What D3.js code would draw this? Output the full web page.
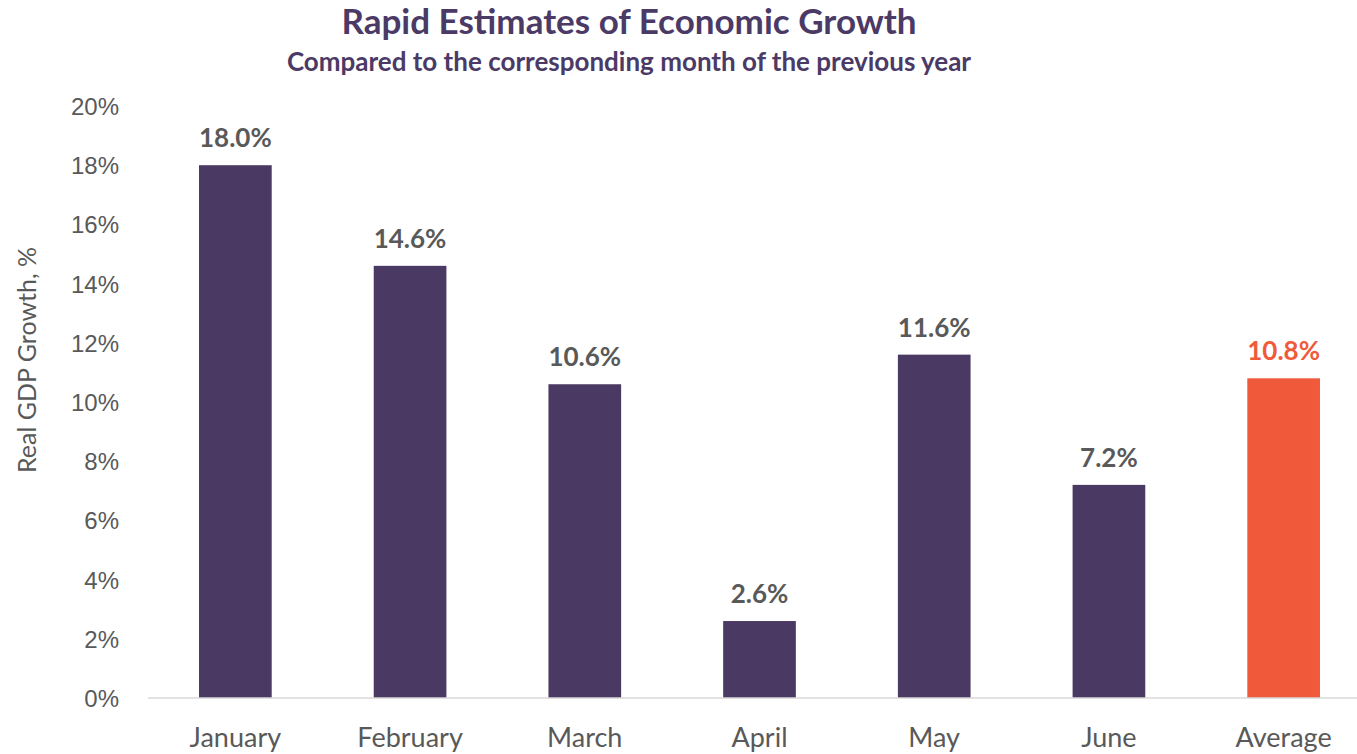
<!DOCTYPE html>
<html>
<head>
<meta charset="utf-8">
<script src="https://cdn.jsdelivr.net/npm/d3@7"></script>
<style>
  body { margin: 0; background: #fff; }
  svg { display: block; font-family: Lato, "Noto Sans", sans-serif; }
  .title { fill: #4b3a66; font-weight: 700; }
  .tick text, .month { fill: #595959; }
  .value { font-weight: 700; fill: #595959; }
</style>
</head>
<body>
<svg id="chart" width="1357" height="754"></svg>
<script>
const months = ['January', 'February', 'March', 'April', 'May', 'June', 'Average'];
const growth = [18.0, 14.6, 10.6, 2.6, 11.6, 7.2, 10.8];
const yTicks = [0, 2, 4, 6, 8, 10, 12, 14, 16, 18, 20];

const data = months.map((m, i) => ({ month: m, value: growth[i], avg: m === 'Average' }));

const svg = d3.select('#chart');
const width = 1357, height = 754;
const margin = { top: 106, right: 0, bottom: 56, left: 148 };

const x = d3.scaleBand()
  .domain(months)
  .range([margin.left, 1371])
  .paddingInner(0.584)
  .paddingOuter(0.292);

const y = d3.scaleLinear()
  .domain([0, 20])
  .range([height - margin.bottom, margin.top]);

// titles
svg.append('text').attr('class', 'title')
  .attr('x', 629).attr('y', 34)
  .attr('text-anchor', 'middle')
  .style('font-size', '35px')
  .text('Rapid Estimates of Economic Growth');
svg.append('text').attr('class', 'title')
  .attr('x', 629).attr('y', 71)
  .attr('text-anchor', 'middle')
  .style('font-size', '26px')
  .text('Compared to the corresponding month of the previous year');

// y axis labels only
const yAxis = svg.append('g')
  .attr('transform', `translate(${119},0)`)
  .call(d3.axisLeft(y).tickValues(yTicks).tickSize(0).tickPadding(0).tickFormat(d => d + '%'));
yAxis.select('.domain').remove();
yAxis.selectAll('text').style('font-size', '24px').attr('dy', '.35em');

svg.append('text')
  .attr('transform', `translate(${36},${360}) rotate(-90)`)
  .attr('text-anchor', 'middle')
  .style('font-size', '25px')
  .attr('fill', '#595959')
  .text('Real GDP Growth, %');

// bars
svg.selectAll('rect.bar').data(data).join('rect')
  .attr('class', 'bar')
  .attr('x', d => x(d.month))
  .attr('width', x.bandwidth())
  .attr('y', d => y(d.value))
  .attr('height', d => y(0) - y(d.value))
  .attr('fill', d => d.avg ? '#f05a3a' : '#4a3a63');

// baseline
svg.append('line')
  .attr('x1', margin.left).attr('x2', width)
  .attr('y1', y(0)).attr('y2', y(0))
  .attr('stroke', '#d9d9d9').attr('stroke-width', 1.5);

// value labels
svg.selectAll('text.value').data(data).join('text')
  .attr('class', 'value')
  .attr('x', d => x(d.month) + x.bandwidth() / 2)
  .attr('y', d => y(d.value) - 18)
  .attr('text-anchor', 'middle')
  .style('font-size', '26px')
  .style('fill', d => d.avg ? '#f05a3a' : null)
  .text(d => d.value.toFixed(1) + '%');

// month labels
svg.selectAll('text.month').data(data).join('text')
  .attr('class', 'month')
  .attr('x', d => x(d.month) + x.bandwidth() / 2)
  .attr('y', y(0) + 49)
  .attr('text-anchor', 'middle')
  .style('font-size', '27px')
  .text(d => d.month);
</script>
</body>
</html>
